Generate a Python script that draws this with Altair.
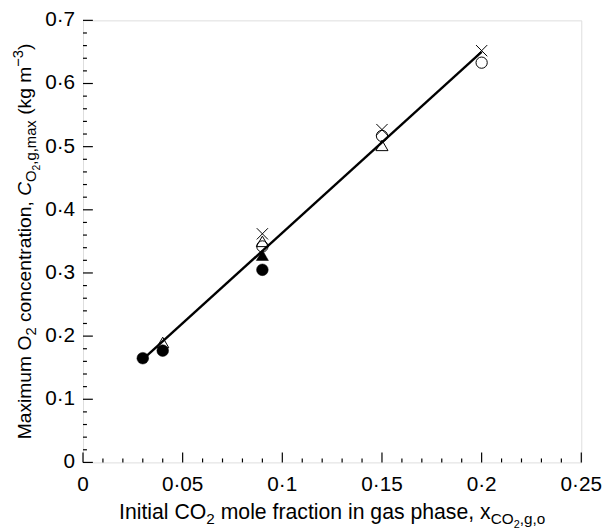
import altair as alt
import pandas as pd

# ---- data ----
filled_circle_x = [0.03, 0.04, 0.09]
filled_circle_y = [0.165, 0.177, 0.305]
filled_tri_x = [0.09]
filled_tri_y = [0.328]
open_tri_x = [0.04, 0.09, 0.15]
open_tri_y = [0.19, 0.350, 0.502]
open_circle_x = [0.09, 0.15, 0.20]
open_circle_y = [0.342, 0.517, 0.633]
cross_x = [0.09, 0.15, 0.20]
cross_y = [0.362, 0.527, 0.652]
fit_x = [0.03, 0.20]
fit_y = [0.163, 0.650]

x_major = [0, 0.05, 0.1, 0.15, 0.2, 0.25]
x_minor = [0.01, 0.02, 0.03, 0.04, 0.06, 0.07, 0.08, 0.09, 0.11, 0.12, 0.13, 0.14,
           0.16, 0.17, 0.18, 0.19, 0.21, 0.22, 0.23, 0.24]
y_major = [0, 0.1, 0.2, 0.3, 0.4, 0.5, 0.6, 0.7]
y_minor = [0.02, 0.04, 0.06, 0.08, 0.12, 0.14, 0.16, 0.18, 0.22, 0.24, 0.26, 0.28,
           0.32, 0.34, 0.36, 0.38, 0.42, 0.44, 0.46, 0.48, 0.52, 0.54, 0.56, 0.58,
           0.62, 0.64, 0.66, 0.68]

W, H = 505, 448
FONT = "Liberation Sans"
LAB = 21


def lab(v):
    return f"{v:g}".replace(".", "·")


xscale = alt.Scale(domain=[0, 0.25], nice=False, zero=False)
yscale = alt.Scale(domain=[0, 0.7], nice=False, zero=False)

# Arial/Liberation Sans advance widths (per 1000 em)
AW = {' ': 278, ',': 278, '(': 333, ')': 333, '−': 584, '·': 278,
      '0': 556, '1': 556, '2': 556, '3': 556,
      'C': 722, 'I': 278, 'M': 833, 'O': 778,
      'a': 556, 'c': 500, 'e': 556, 'f': 278, 'g': 556, 'h': 556, 'i': 222,
      'k': 500, 'l': 222, 'm': 833, 'n': 556, 'o': 556, 'p': 556, 'r': 333,
      's': 500, 't': 278, 'u': 556, 'x': 500}


def tw(s, size):
    return sum(AW.get(ch, 556) for ch in s) * size / 1000.0


layers = []

base_axis_x = alt.Axis(values=x_major, labels=False, ticks=False, grid=False,
                       domainColor="black", domainWidth=1.6, title=None)
base_axis_y = alt.Axis(values=y_major, labels=False, ticks=False, grid=False,
                       domainColor="black", domainWidth=1.6, title=None)

# fitted line (carries the axis domains)
line_df = pd.DataFrame({"x": fit_x, "y": fit_y})
layers.append(
    alt.Chart(line_df).mark_line(color="black", strokeWidth=2.4).encode(
        x=alt.X("x:Q", scale=xscale, axis=base_axis_x),
        y=alt.Y("y:Q", scale=yscale, axis=base_axis_y),
    )
)

# ticks drawn inward
for vals, length in ((x_major, 10), (x_minor, 4)):
    layers.append(
        alt.Chart(pd.DataFrame({"x": vals})).mark_rule(color="black", strokeWidth=1.2).encode(
            x=alt.X("x:Q", scale=xscale, axis=None),
            y=alt.value(H), y2=alt.value(H - length),
        )
    )
for vals, length in ((y_major, 10), (y_minor, 4)):
    layers.append(
        alt.Chart(pd.DataFrame({"y": vals})).mark_rule(color="black", strokeWidth=1.2).encode(
            y=alt.Y("y:Q", scale=yscale, axis=None),
            x=alt.value(0), x2=alt.value(length),
        )
    )

# tick labels
xl = pd.DataFrame({"x": x_major, "t": [lab(v) for v in x_major]})
layers.append(
    alt.Chart(xl).mark_text(font=FONT, fontSize=LAB, color="black", align="center",
                            baseline="middle").encode(
        x=alt.X("x:Q", scale=xscale, axis=None), y=alt.value(H + 23), text="t:N")
)
yl = pd.DataFrame({"y": y_major, "t": [lab(v) for v in y_major]})
layers.append(
    alt.Chart(yl).mark_text(font=FONT, fontSize=LAB, color="black", align="right",
                            baseline="middle").encode(
        y=alt.Y("y:Q", scale=yscale, axis=None), x=alt.value(-8), text="t:N")
)


def pts(xs, ys, shape, filled, size):
    df = pd.DataFrame({"x": xs, "y": ys})
    if filled:
        m = alt.Chart(df).mark_point(shape=shape, filled=True, fill="black",
                                     stroke="black", strokeWidth=0.5, size=size, opacity=1)
    else:
        m = alt.Chart(df).mark_point(shape=shape, filled=False, stroke="black",
                                     strokeWidth=1.0, size=size, opacity=1)
    return m.encode(x=alt.X("x:Q", scale=xscale, axis=None),
                    y=alt.Y("y:Q", scale=yscale, axis=None))


layers.append(pts(filled_circle_x, filled_circle_y, "circle", True, 140))
layers.append(pts(filled_tri_x, filled_tri_y, "triangle-up", True, 150))
layers.append(pts(open_tri_x, open_tri_y, "triangle-up", False, 150))
layers.append(pts(open_circle_x, open_circle_y, "circle", False, 130))
layers.append(pts(cross_x, cross_y, "M-1,-1L1,1M-1,1L1,-1", False, 130))


def piece(text, x, y, size, angle=0, italic=False):
    kw = dict(font=FONT, fontSize=size, color="black", align="left",
              baseline="alphabetic", angle=angle)
    if italic:
        kw["fontStyle"] = "italic"
    return alt.Chart(pd.DataFrame({"t": [text]})).mark_text(**kw).encode(
        x=alt.value(x), y=alt.value(y), text="t:N")


def draw_pieces(items, horizontal, start, base):
    pos = start
    for t, s, d, it in items:
        lead = len(t) - len(t.lstrip(" "))
        pos_adj = pos + (tw(" " * lead, s) if horizontal else -tw(" " * lead, s))
        core = t.strip(" ")
        if core:
            if horizontal:
                layers.append(piece(core, pos_adj, base + d, s, italic=it))
            else:
                layers.append(piece(core, base + d, pos_adj, s, angle=270, italic=it))
        pos = pos + tw(t, s) if horizontal else pos - tw(t, s)


# x title pieces: (text, size, baseline shift down, italic)
XT, XS, XS2 = 21.5, 15.5, 11
x_title = [("Initial CO", XT, 0, False), ("2", XS, 5, False),
           (" mole fraction in gas phase, x", XT, 0, False),
           ("CO", XS, 5, False), ("2", XS2, 9, False), (",g,o", XS, 5, False)]
total = sum(tw(t, s) for t, s, _, _ in x_title)
draw_pieces(x_title, True, W / 2 - total / 2, 505)

# y title pieces (rotated): (text, size, shift right, italic)
YT, YS, YS2 = 19.5, 15, 10.5
y_title = [("Maximum O", YT, 0, False), ("2", YS, 5, False),
           (" concentration, ", YT, 0, False), ("C", YT, 0, True),
           ("O", YS, 5, False), ("2", YS2, 9, False), (",g,max", YS, 5, False),
           (" (kg m", YT, 0, False), ("−3", YS, -8, False), (")", YT, 0, False)]
total = sum(tw(t, s) for t, s, _, _ in y_title)
draw_pieces(y_title, False, H / 2 + total / 2, -53)

chart = alt.layer(*layers).properties(
    width=W, height=H,
    autosize=alt.AutoSizeParams(type="none"),
    padding={"left": 76, "top": 9, "right": 22, "bottom": 67},
).configure_view(stroke=None).configure(background="white")

chart.save("out.html", embed_options={"renderer": "svg", "actions": False})
